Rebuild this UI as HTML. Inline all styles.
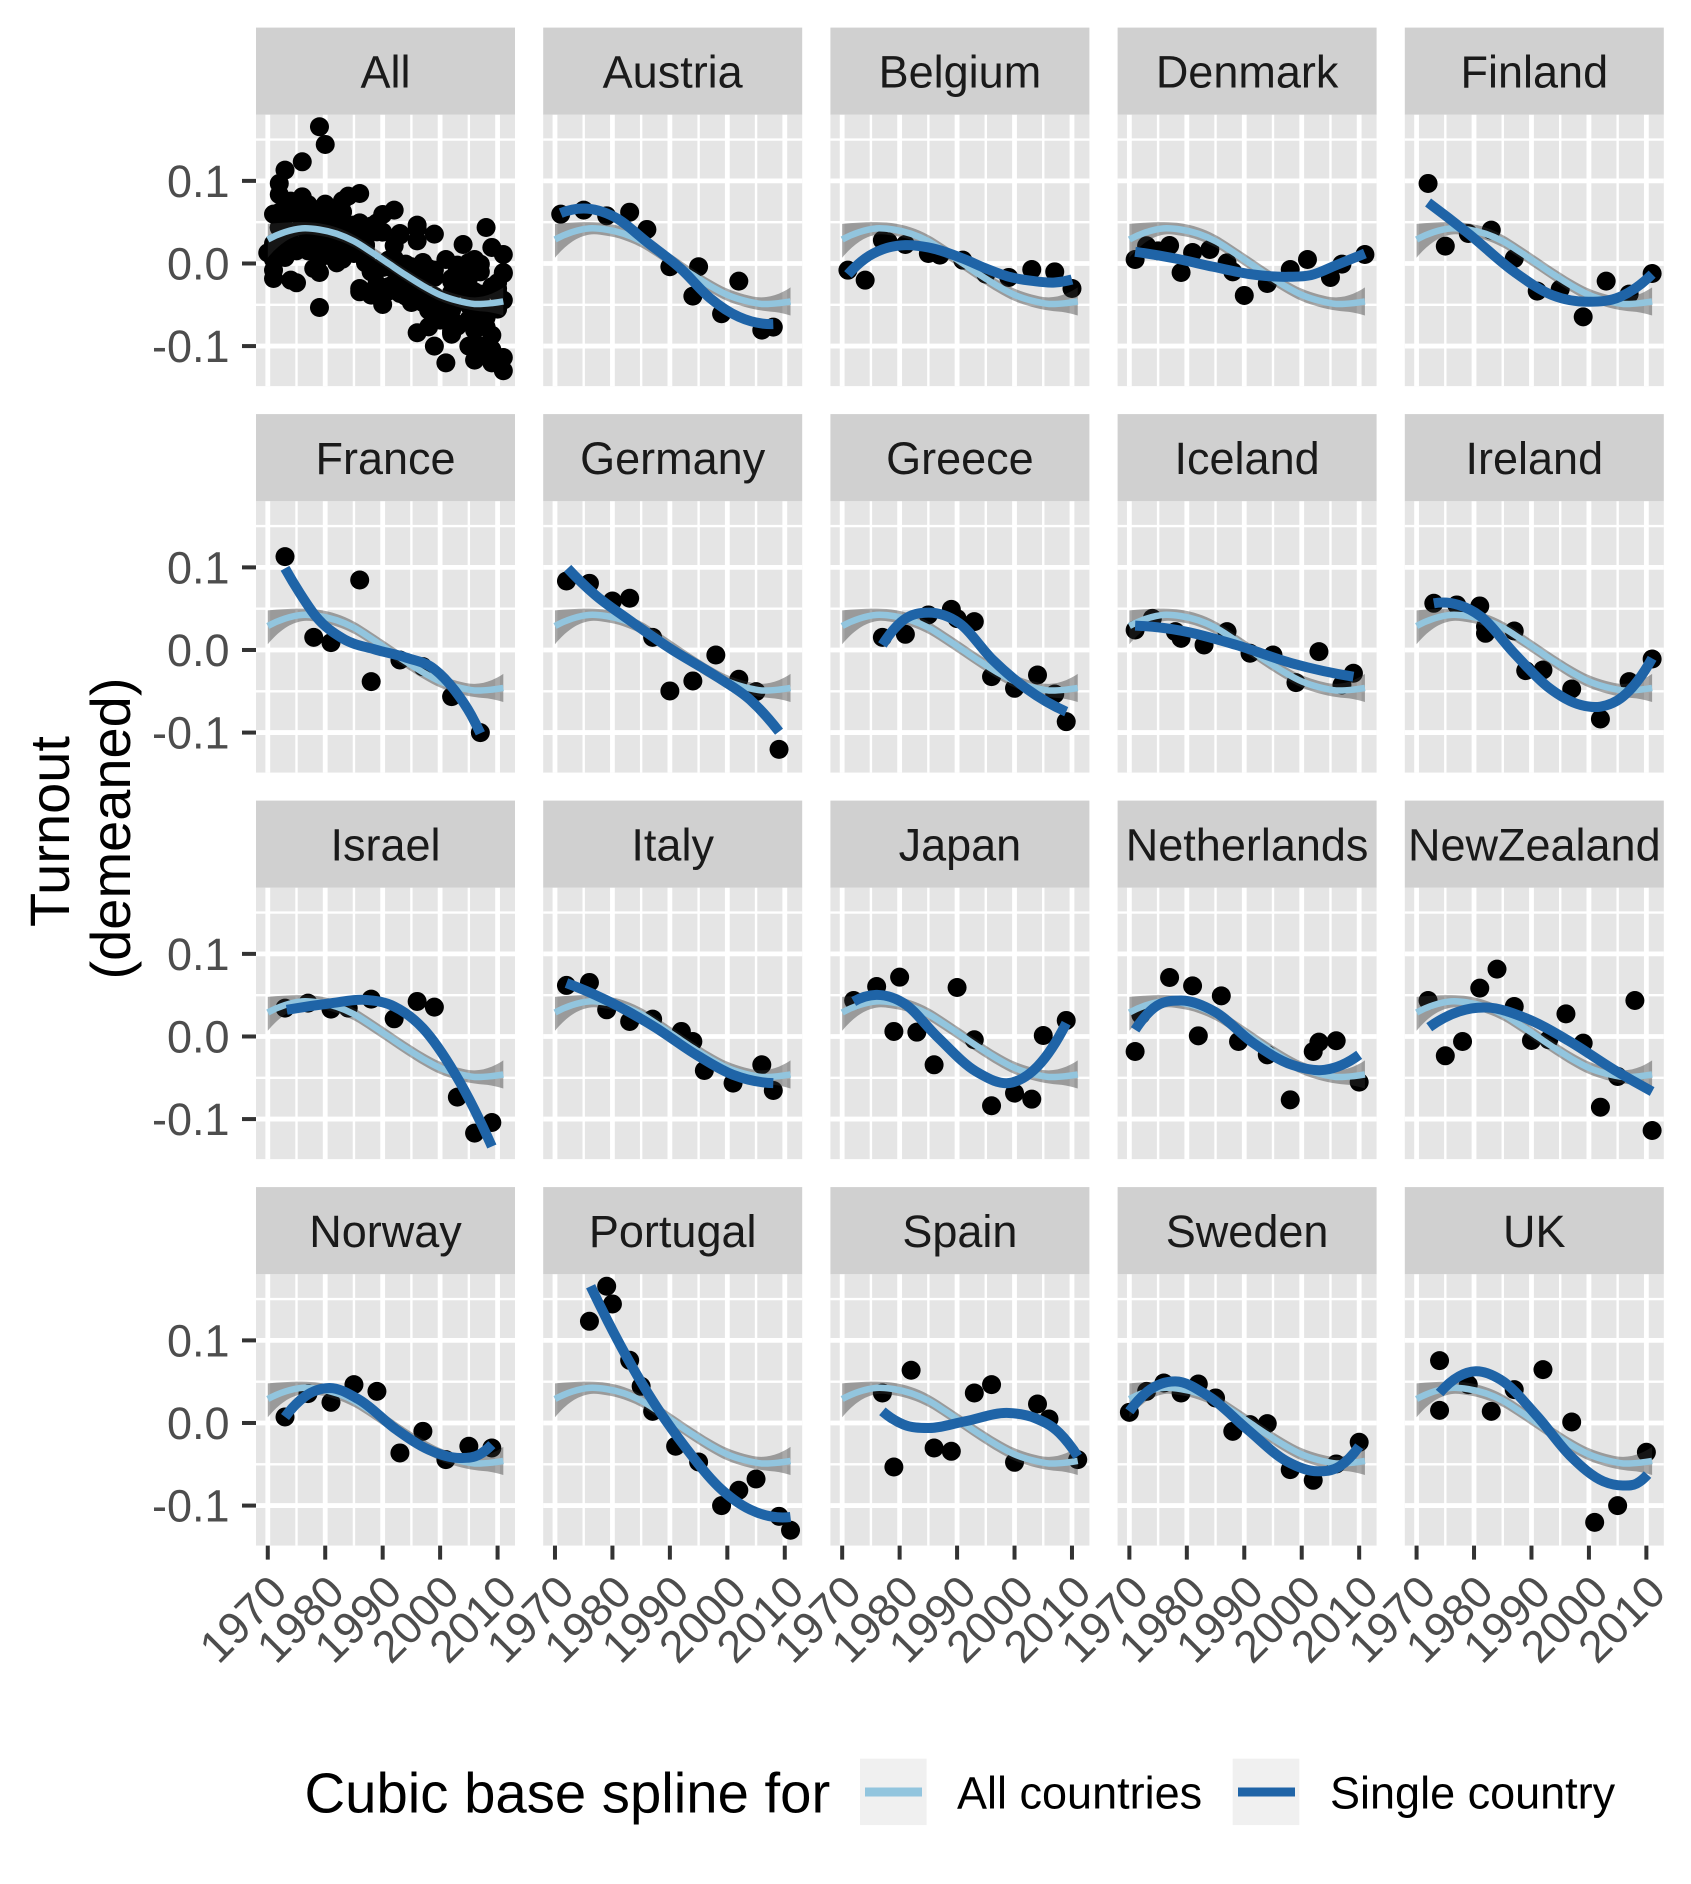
<!DOCTYPE html>
<html lang="en">
<head>
<meta charset="utf-8">
<title>Turnout (demeaned) by country</title>
<style>
html,body{margin:0;padding:0;background:#fff;width:1691px;height:1884px;overflow:hidden}
svg{display:block;font-family:"Liberation Sans",sans-serif}
</style>
</head>
<body>
<svg id="chart" width="1691" height="1884" viewBox="0 0 1691 1884" xmlns="http://www.w3.org/2000/svg">
  <g font-size="56" fill="#000" text-anchor="middle">
    <text transform="translate(69 831.5) rotate(-90)">Turnout</text>
    <text transform="translate(130 828.5) rotate(-90)">(demeaned)</text>
  </g>
  <g id="panels"></g>
  <g>
    <text x="304.5" y="1812.5" font-size="56.3" fill="#000">Cubic base spline for</text>
    <g>
      <rect x="860" y="1758.7" width="66.6" height="66.4" fill="#f0f0f0"/>
      <line x1="865" x2="922" y1="1792" y2="1792" stroke="#92c5de" stroke-width="9"/>
      <text x="957" y="1808.5" font-size="45" fill="#000">All countries</text>
    </g>
    <g>
      <rect x="1232.7" y="1758.7" width="66.6" height="66.4" fill="#f0f0f0"/>
      <line x1="1238" x2="1295" y1="1792" y2="1792" stroke="#1f64a7" stroke-width="9"/>
      <text x="1330" y="1808.5" font-size="45" fill="#000">Single country</text>
    </g>
  </g>
</svg>
<script>
const panelNames = ["All","Austria","Belgium","Denmark","Finland","France","Germany","Greece","Iceland","Ireland","Israel","Italy","Japan","Netherlands","NewZealand","Norway","Portugal","Spain","Sweden","UK"];
const xTickValues = [1970,1980,1990,2000,2010];
const xMinorValues = [1975,1985,1995,2005];
const xTickLabels = ["1970","1980","1990","2000","2010"];
const yTickValues = [0.1,0,-0.1];
const yMinorValues = [0.15,0.05,-0.05];
const yTickLabels = ["0.1","0.0","-0.1"];

const allFitYears = [1970,1973,1976,1979,1982,1985,1988,1991,1994,1997,2000,2003,2006,2009,2011];
const allFit = [0.029,0.038,0.0425,0.041,0.036,0.027,0.014,0,-0.014,-0.027,-0.038,-0.045,-0.049,-0.048,-0.046];
const allFitUpper = [0.048,0.0495,0.05,0.0485,0.0435,0.0345,0.0215,0.0075,-0.0065,-0.0195,-0.0305,-0.0375,-0.041,-0.0365,-0.029];
const allFitLower = [0.007,0.0265,0.035,0.0335,0.0285,0.0195,0.0065,-0.0075,-0.0215,-0.0345,-0.0455,-0.0525,-0.057,-0.0595,-0.063];

const austriaYears = [1971,1975,1979,1983,1986,1990,1995,1994,1999,2002,2006,2008];
const austriaTurnout = [0.0597,0.0646,0.0577,0.0621,0.0412,-0.004,-0.004,-0.0395,-0.0609,-0.0214,-0.0807,-0.0771];
const austriaFitYears = [1971,1975,1980.3,1986,1992,1997,2002,2008];
const austriaFit = [0.061,0.0666,0.0565,0.026,-0.007,-0.042,-0.0646,-0.0734];

const belgiumYears = [1971,1974,1977,1978,1981,1985,1987,1991,1995,1999,2003,2007,2010];
const belgiumTurnout = [-0.0081,-0.0202,0.0282,0.0262,0.023,0.0121,0.0101,0.004,-0.0129,-0.0169,-0.0073,-0.0101,-0.0303];
const belgiumFitYears = [1971,1974,1977,1981,1985,1991,1995,1999,2003,2007,2010];
const belgiumFit = [-0.0133,0.006,0.017,0.0222,0.0194,0.006,-0.006,-0.016,-0.021,-0.023,-0.0194];

const denmarkYears = [1971,1973,1975,1977,1979,1981,1984,1987,1988,1990,1994,1998,2001,2005,2007,2011];
const denmarkTurnout = [0.0048,0.0214,0.0153,0.0218,-0.0109,0.0133,0.0169,0.0008,-0.0101,-0.0387,-0.0242,-0.0073,0.0048,-0.0169,-0.0008,0.0109];
const denmarkFitYears = [1971,1978,1984.6,1991,1997.7,2001.6,2006,2011];
const denmarkFit = [0.0141,0.006,-0.004,-0.0129,-0.0161,-0.0141,-0.002,0.0121];

const finlandYears = [1972,1975,1979,1983,1987,1991,1995,1999,2003,2007,2011];
const finlandTurnout = [0.0969,0.021,0.0363,0.0404,0.006,-0.0335,-0.0311,-0.0646,-0.0214,-0.0371,-0.0121];
const finlandFitYears = [1972,1979,1987,1993.6,2000,2005.4,2011];
const finlandFit = [0.0738,0.0363,-0.0101,-0.0383,-0.0464,-0.0404,-0.0129];

const franceYears = [1973,1978,1981,1986,1988,1993,1997,2002,2007];
const franceTurnout = [0.113,0.0153,0.0089,0.0847,-0.0383,-0.0121,-0.0202,-0.0565,-0.1001];
const franceFitYears = [1973,1975.6,1978.4,1983,1988.7,1994,1999,2002.6,2005.4,2007];
const franceFit = [0.0989,0.0686,0.0404,0.0141,0.0005,-0.0091,-0.0232,-0.0494,-0.0787,-0.1009];

const germanyYears = [1972,1976,1980,1983,1987,1990,1994,1998,2002,2005,2009];
const germanyTurnout = [0.0835,0.0807,0.0593,0.0626,0.0153,-0.0496,-0.0375,-0.0061,-0.0355,-0.0504,-0.1203];
const germanyFitYears = [1972.2,1977,1982.5,1990,1998.4,2004,2009];
const germanyFit = [0.0989,0.0666,0.0383,0.002,-0.0333,-0.0605,-0.0989];

const greeceYears = [1977,1981,1985,1989,1990,1993,1996,2000,2004,2007,2009];
const greeceTurnout = [0.0153,0.019,0.0424,0.0492,0.038,0.0343,-0.0323,-0.0464,-0.0303,-0.0533,-0.0868];
const greeceFitYears = [1977,1980.7,1985,1990.4,1996.2,2002,2009];
const greeceFit = [0.0061,0.0364,0.0452,0.0323,-0.012,-0.0464,-0.0747];

const icelandYears = [1971,1974,1978,1979,1983,1987,1991,1995,1999,2003,2007,2009];
const icelandTurnout = [0.0242,0.0383,0.0222,0.0141,0.0061,0.0222,-0.004,-0.0061,-0.0395,-0.002,-0.0424,-0.0282];
const icelandFitYears = [1971,1979,1988.6,1998.3,2009];
const icelandFit = [0.0295,0.0234,0.0061,-0.0161,-0.0323];

const irelandYears = [1973,1977,1981,1982,1982,1987,1989,1992,1997,2002,2007,2011];
const irelandTurnout = [0.0565,0.0545,0.0533,0.0282,0.0202,0.023,-0.025,-0.0242,-0.0472,-0.0835,-0.0383,-0.0109];
const irelandFitYears = [1973,1977.3,1981.2,1987,1992.8,1998.6,2002,2005.9,2011];
const irelandFit = [0.0565,0.0545,0.0404,-0.004,-0.0444,-0.0666,-0.0686,-0.0565,-0.0101];

const israelYears = [1973,1977,1981,1984,1988,1992,1996,1999,2003,2006,2009];
const israelTurnout = [0.0343,0.0404,0.0331,0.0343,0.0452,0.0214,0.0424,0.0355,-0.0734,-0.117,-0.1041];
const israelFitYears = [1973.3,1981.2,1986.8,1992,1997,2002.6,2006,2009];
const israelFit = [0.0323,0.0404,0.0444,0.0363,0.01,-0.0454,-0.0888,-0.1332];

const italyYears = [1972,1976,1979,1983,1987,1992,1994,1996,2001,2006,2008];
const italyTurnout = [0.0618,0.0654,0.0323,0.0182,0.021,0.0061,-0.0061,-0.0412,-0.0565,-0.0343,-0.0654];
const italyFitYears = [1972,1978.8,1987.2,1994.6,2001,2008];
const italyFit = [0.0646,0.0444,0.0121,-0.0222,-0.0464,-0.0565];

const japanYears = [1972,1976,1980,1979,1983,1986,1990,1993,1996,2000,2003,2005,2009];
const japanTurnout = [0.0436,0.0605,0.0718,0.0061,0.0052,-0.0343,0.0593,-0.004,-0.0839,-0.0686,-0.0759,0.0012,0.0194];
const japanFitYears = [1972,1975.9,1980.7,1986.5,1993.3,1999.6,2004,2009];
const japanFit = [0.0424,0.0504,0.0404,0,-0.0424,-0.0557,-0.0363,0.0161];

const netherlandsYears = [1971,1972,1977,1981,1982,1986,1989,1994,1998,2002,2003,2006,2010];
const netherlandsTurnout = [-0.0182,0.0262,0.0714,0.0613,0.0008,0.0492,-0.0061,-0.0222,-0.0767,-0.0182,-0.0069,-0.0052,-0.0553];
const netherlandsFitYears = [1971,1974.2,1979,1984.8,1991.6,1998.3,2004,2010];
const netherlandsFit = [0.0081,0.0343,0.0436,0.0303,-0.0081,-0.0343,-0.0404,-0.0222];

const newZealandYears = [1972,1975,1978,1981,1984,1987,1990,1993,1996,1999,2002,2005,2008,2011];
const newZealandTurnout = [0.0436,-0.0234,-0.0061,0.0585,0.0815,0.0363,-0.0048,-0.004,0.0274,-0.0081,-0.0856,-0.0484,0.0436,-0.1138];
const newZealandFitYears = [1972.2,1977.4,1982.2,1989,1996.7,2004.4,2011];
const newZealandFit = [0.0113,0.0303,0.0351,0.0222,-0.0061,-0.0404,-0.0666];

const norwayYears = [1973,1977,1981,1985,1989,1993,1997,2001,2005,2009];
const norwayTurnout = [0.0073,0.0355,0.025,0.0464,0.0383,-0.0363,-0.0101,-0.0444,-0.0282,-0.0303];
const norwayFitYears = [1973,1976.5,1980.7,1985.9,1992.4,1998,2003.6,2006.8,2009];
const norwayFit = [0.0073,0.0323,0.0424,0.0282,-0.0081,-0.0323,-0.0424,-0.0383,-0.0262];

const portugalYears = [1976,1979,1980,1983,1985,1987,1991,1995,1999,2002,2005,2009,2011];
const portugalTurnout = [0.1231,0.1655,0.1441,0.0759,0.0444,0.0141,-0.0282,-0.0472,-0.1001,-0.0815,-0.0678,-0.113,-0.1299];
const portugalFitYears = [1976.2,1979.2,1983.4,1988,1992.8,1998.4,2004,2011];
const portugalFit = [0.1655,0.1231,0.0686,0.0161,-0.0303,-0.0767,-0.1049,-0.1138];

const spainYears = [1977,1979,1982,1986,1989,1993,1996,2000,2004,2006,2011];
const spainTurnout = [0.0363,-0.0533,0.0638,-0.0303,-0.0343,0.0363,0.0464,-0.0476,0.023,0.0048,-0.0444];
const spainFitYears = [1977,1980.7,1985,1991.4,1999,2003.5,2007.8,2011];
const spainFit = [0.0141,-0.002,-0.0061,0.002,0.0121,0.0061,-0.0121,-0.0404];

const swedenYears = [1970,1973,1976,1979,1982,1985,1988,1991,1994,1998,2002,2006,2010];
const swedenTurnout = [0.0129,0.0383,0.0484,0.0363,0.0472,0.0303,-0.0101,-0.002,-0.0008,-0.0565,-0.0694,-0.0496,-0.0234];
const swedenFitYears = [1970,1973.2,1978,1983.8,1990.6,1997.4,2002.7,2006.6,2010];
const swedenFit = [0.0141,0.0383,0.0504,0.0323,-0.0081,-0.0464,-0.0585,-0.0525,-0.0282];

const ukYears = [1974,1974,1979,1983,1987,1992,1997,2001,2005,2010];
const ukTurnout = [0.0755,0.0153,0.0464,0.0141,0.0404,0.0646,0.0012,-0.1203,-0.1001,-0.0355];
const ukFitYears = [1974,1977.4,1980.3,1984.6,1991,1996.7,2002.5,2005.9,2008.3,2010.2];
const ukFit = [0.0363,0.0565,0.0626,0.0525,0.0081,-0.0394,-0.0706,-0.0757,-0.0734,-0.0625];

const countrySeries = [
  [austriaYears,austriaTurnout,austriaFitYears,austriaFit],
  [belgiumYears,belgiumTurnout,belgiumFitYears,belgiumFit],
  [denmarkYears,denmarkTurnout,denmarkFitYears,denmarkFit],
  [finlandYears,finlandTurnout,finlandFitYears,finlandFit],
  [franceYears,franceTurnout,franceFitYears,franceFit],
  [germanyYears,germanyTurnout,germanyFitYears,germanyFit],
  [greeceYears,greeceTurnout,greeceFitYears,greeceFit],
  [icelandYears,icelandTurnout,icelandFitYears,icelandFit],
  [irelandYears,irelandTurnout,irelandFitYears,irelandFit],
  [israelYears,israelTurnout,israelFitYears,israelFit],
  [italyYears,italyTurnout,italyFitYears,italyFit],
  [japanYears,japanTurnout,japanFitYears,japanFit],
  [netherlandsYears,netherlandsTurnout,netherlandsFitYears,netherlandsFit],
  [newZealandYears,newZealandTurnout,newZealandFitYears,newZealandFit],
  [norwayYears,norwayTurnout,norwayFitYears,norwayFit],
  [portugalYears,portugalTurnout,portugalFitYears,portugalFit],
  [spainYears,spainTurnout,spainFitYears,spainFit],
  [swedenYears,swedenTurnout,swedenFitYears,swedenFit],
  [ukYears,ukTurnout,ukFitYears,ukFit]
];

const NS = "http://www.w3.org/2000/svg";
const root = document.getElementById("panels");
const PANEL_W = 259, PANEL_H = 271.3, STRIP_H = 87.2;
const PITCH_X = 287.2, PITCH_Y = 386.5, LEFT0 = 256, TOP0 = 114.8;
const YEAR_PX = 5.745, X_MIN = 1967.95, VALUE_PX = 826, Y_TOP_VALUE = 0.18;

function xScale(left, year) { return left + (year - X_MIN) * YEAR_PX; }
function yScale(top, value) { return top + (Y_TOP_VALUE - value) * VALUE_PX; }

function make(parent, tag, attrs) {
  const el = document.createElementNS(NS, tag);
  for (const k in attrs) el.setAttribute(k, attrs[k]);
  parent.appendChild(el);
  return el;
}

// Hermite interpolation through the read curve values, with knot-spacing-aware slopes.
function slopes(pts) {
  const n = pts.length, m = [];
  const h = [], d = [];
  for (let i = 0; i < n - 1; i++) {
    h[i] = pts[i + 1][0] - pts[i][0];
    d[i] = (pts[i + 1][1] - pts[i][1]) / h[i];
  }
  if (n === 2) return [d[0], d[0]];
  m[0] = ((2 * h[0] + h[1]) * d[0] - h[0] * d[1]) / (h[0] + h[1]);
  for (let i = 1; i < n - 1; i++) {
    m[i] = (h[i - 1] * d[i] + h[i] * d[i - 1]) / (h[i - 1] + h[i]);
  }
  m[n - 1] = ((2 * h[n - 2] + h[n - 3]) * d[n - 2] - h[n - 2] * d[n - 3]) / (h[n - 2] + h[n - 3]);
  return m;
}
function smoothSegments(pts) {
  const asc = pts[pts.length - 1][0] >= pts[0][0];
  const fwd = asc ? pts : pts.slice().reverse();
  let m = slopes(fwd);
  if (!asc) m = m.slice().reverse();
  let d = "";
  for (let i = 0; i < pts.length - 1; i++) {
    const p1 = pts[i], p2 = pts[i + 1], dx = (p2[0] - p1[0]) / 3;
    d += "C" + (p1[0] + dx).toFixed(2) + " " + (p1[1] + m[i] * dx).toFixed(2) + " " +
      (p2[0] - dx).toFixed(2) + " " + (p2[1] - m[i + 1] * dx).toFixed(2) + " " +
      p2[0].toFixed(2) + " " + p2[1].toFixed(2);
  }
  return d;
}
function curvePoints(left, top, years, values) {
  return years.map(function (yr, i) { return [xScale(left, yr), yScale(top, values[i])]; });
}
function curvePath(left, top, years, values) {
  const pts = curvePoints(left, top, years, values);
  return "M" + pts[0][0].toFixed(2) + " " + pts[0][1].toFixed(2) + smoothSegments(pts);
}
function ribbonPath(left, top, years, upper, lower) {
  const up = curvePoints(left, top, years, upper);
  const lo = curvePoints(left, top, years, lower).reverse();
  return "M" + up[0][0].toFixed(2) + " " + up[0][1].toFixed(2) + smoothSegments(up) +
    "L" + lo[0][0].toFixed(2) + " " + lo[0][1].toFixed(2) + smoothSegments(lo) + "Z";
}

panelNames.forEach(function (name, idx) {
  const col = idx % 5, row = Math.floor(idx / 5);
  const left = LEFT0 + col * PITCH_X, top = TOP0 + row * PITCH_Y;
  const slug = name.toLowerCase();
  const g = make(root, "g", {});
  
  

  const strip = make(g, "rect", { x: left, y: top - STRIP_H, width: PANEL_W, height: STRIP_H, fill: "#d0d0d0" });
  
  
  const title = make(g, "text", { x: left + PANEL_W / 2, y: top - STRIP_H + 60, "font-size": 45, fill: "#1a1a1a", "text-anchor": "middle" });
  
  
  title.textContent = name;

  const bg = make(g, "rect", { x: left, y: top, width: PANEL_W, height: PANEL_H, fill: "#e5e5e5" });
  
  

  const grid = make(g, "g", { stroke: "#fff" });
  
  
  yMinorValues.forEach(function (v) {
    make(grid, "line", { x1: left, x2: left + PANEL_W, y1: yScale(top, v), y2: yScale(top, v), "stroke-width": 2.4 });
  });
  xMinorValues.forEach(function (v) {
    make(grid, "line", { x1: xScale(left, v), x2: xScale(left, v), y1: top, y2: top + PANEL_H, "stroke-width": 2.4 });
  });
  yTickValues.forEach(function (v) {
    make(grid, "line", { x1: left, x2: left + PANEL_W, y1: yScale(top, v), y2: yScale(top, v), "stroke-width": 4.8 });
  });
  xTickValues.forEach(function (v) {
    make(grid, "line", { x1: xScale(left, v), x2: xScale(left, v), y1: top, y2: top + PANEL_H, "stroke-width": 4.8 });
  });

  const series = idx === 0 ? null : countrySeries[idx - 1];
  const pointSets = idx === 0 ? countrySeries : [series];
  const pts = make(g, "g", { fill: "#000" });
  
  
  pointSets.forEach(function (s) {
    s[0].forEach(function (yr, i) {
      const c = make(pts, "circle", { cx: xScale(left, yr).toFixed(2), cy: yScale(top, s[1][i]).toFixed(2), r: 9.5 });
      
      
    });
  });

  const rib = make(g, "path", { d: ribbonPath(left, top, allFitYears, allFitUpper, allFitLower), fill: "#333", "fill-opacity": 0.42 });
  
  
  const light = make(g, "path", { d: curvePath(left, top, allFitYears, allFit), fill: "none", stroke: "#92c5de", "stroke-width": 6.5 });
  
  

  if (series) {
    const dark = make(g, "path", { d: curvePath(left, top, series[2], series[3]), fill: "none", stroke: "#1f64a7", "stroke-width": 10 });
    
    
  }

  if (col === 0) {
    yTickValues.forEach(function (v, i) {
      const t = make(g, "rect", { x: left - 14, y: yScale(top, v) - 2, width: 14, height: 4, fill: "#333" });
      
      
      const lab = make(g, "text", { x: 229.5, y: yScale(top, v) + 16, "font-size": 45, fill: "#4d4d4d", "text-anchor": "end" });
      
      
      lab.textContent = yTickLabels[i];
    });
  }
  if (row === 3) {
    xTickValues.forEach(function (v, i) {
      const px = xScale(left, v);
      const t = make(g, "rect", { x: px - 2, y: top + PANEL_H, width: 4, height: 14, fill: "#333" });
      
      
      const bx = px + 21.5, by = top + PANEL_H + 49;
      const lab = make(g, "text", { x: bx, y: by, "font-size": 45, fill: "#4d4d4d", "text-anchor": "end", transform: "rotate(-45 " + bx + " " + by + ")" });
      
      
      lab.textContent = xTickLabels[i];
    });
  }
});
</script>
</body>
</html>
